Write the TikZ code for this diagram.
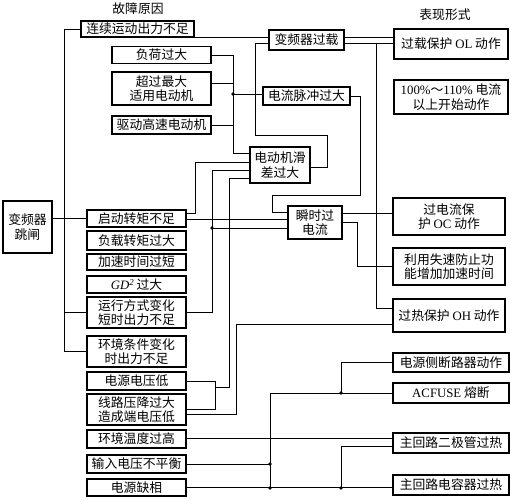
\documentclass[tikz,border=0pt]{standalone}
\usepackage{fontspec}
\setmainfont{Noto Sans CJK SC}
\newfontfamily\lat{Liberation Serif}
\begin{document}
\begin{tikzpicture}[x=1pt, y=-1pt, line width=0.8pt,
  box/.style={draw, line width=1.3pt, inner sep=0pt, align=center,
    font=\fontsize{12.8}{14.5}\selectfont},
  sz/.style 2 args={minimum width=#1pt, minimum height=#2pt},
  jd/.style={circle, fill, inner sep=0pt, minimum size=3.8pt}]
\useasboundingbox (0,0) rectangle (511,500);
% titles
\node[font=\fontsize{12.8}{14.5}\selectfont] (yy) at (138,9) {故障原因};
\node[font=\fontsize{12.8}{14.5}\selectfont] (bx) at (445,15) {表现形式};
% causes
\node[box, sz={113}{16}] (lx) at (137.5,29) {连续运动出力不足};
\node[box, sz={99}{17}] (fh) at (161.5,55) {负荷过大};
\node[box, sz={99}{33}] (cg) at (161.5,88.5) {超过最大\\适用电动机};
\node[box, sz={99}{18}] (qg) at (161.5,125) {驱动高速电动机};
\node[box, sz={49}{52}] (tz) at (27.5,227) {变频器\\跳闸};
\node[box, sz={99}{17}] (qd) at (136.5,218.5) {启动转矩不足};
\node[box, sz={99}{19}] (fz) at (136.5,240.5) {负载转矩过大};
\node[box, sz={99}{16}] (js) at (136.5,262) {加速时间过短};
\node[box, sz={99}{17}] (gd) at (136.5,284.5) {{\lat\itshape GD\textsuperscript{2}}\,过大};
\node[box, sz={99}{31}] (yf) at (136.5,312.5) {运行方式变化\\短时出力不足};
\node[box, sz={99}{31}] (hj) at (136.5,351.5) {环境条件变化\\时出力不足};
\node[box, sz={99}{18}] (dy) at (136.5,381) {电源电压低};
\node[box, sz={99}{31}] (xl) at (136.5,409.5) {线路压降过大\\造成端电压低};
\node[box, sz={99}{18}] (wd) at (136.5,439) {环境温度过高};
\node[box, sz={99}{18}] (sr) at (136.5,464) {输入电压不平衡};
\node[box, sz={99}{17}] (qx) at (136.5,487.5) {电源缺相};
% middle
\node[box, sz={75}{20}] (gz) at (306.5,40) {变频器过载};
\node[box, sz={87}{18}] (mc) at (306.5,96) {电流脉冲过大};
\node[box, sz={60}{36}] (hc) at (280,165) {电动机滑\\差过大};
\node[box, sz={54}{33}] (ss) at (315,222.5) {瞬时过\\电流};
% results
\node[box, sz={114}{30}] (ol) at (451,44) {过载保护 {\lat OL} 动作};
\node[box, sz={114}{34}] (bf) at (451,97) {{\lat 100\%}～{\lat 110\%} 电流\\以上开始动作};
\node[box, sz={112}{37}] (oc) at (449,216.5) {过电流保\\护 {\lat OC} 动作};
\node[box, sz={112}{37}] (sl) at (449,266.5) {利用失速防止功\\能增加加速时间};
\node[box, sz={112}{33}] (oh) at (449,315.5) {过热保护 {\lat OH} 动作};
\node[box, sz={116}{19}] (dl) at (451,362.5) {电源侧断路器动作};
\node[box, sz={116}{20}] (af) at (451,393) {{\lat ACFUSE} 熔断};
\node[box, sz={116}{20}] (ej) at (451,443) {主回路二极管过热};
\node[box, sz={116}{20}] (dr) at (451,485) {主回路电容器过热};
% junctions
\coordinate (lbus) at (64,0);
\coordinate (gbus) at (233,0);
\coordinate (olj) at (376,43);
\node[jd] (d1) at (233,94) {};
\node[jd] (d2) at (212,228) {};
\node[jd] (d3) at (270,464) {};
\node[jd] (d4) at (270,488) {};
\node[jd] (d5) at (341,393) {};
\node[jd] (d6) at (341,488) {};
% connectors
\draw (tz.east |- qd.west) -- (qd.west);
\draw (lx.west) -- (lx.west -| lbus) |- (hj.west);
\draw (yf.west) -- (yf.west -| lbus);
\draw (lx.south east) -- (gz.west |- lx.south east);
\draw (gz.east |- 0,37) -- (ol.west |- 0,37);
\draw (gz.east |- 0,43) -- (ol.west |- 0,43);
\draw (olj) |- (oh.west |- 0,308);
\draw (hc.east |- 0,167) -- (327,167) |- (255,135) |- (gz.west |- 0,43);
\draw (fh.east) -- (fh.east -| gbus) |- (hc.west |- 0,153);
\draw (cg.east |- 0,83) -- (gbus |- 0,83);
\draw (qg.east) -- (qg.east -| gbus);
\draw (d1.center) -- (mc.west |- d1.center);
\draw (qd.east |- 0,213) -- (195,213) |- (hc.west |- 0,162);
\draw (qd.east |- 0,219) -- (ss.west |- 0,219);
\draw (yf.east) -- (yf.east -| d2) |- (hc.west |- 0,170);
\draw (d2.center) -- (ss.west |- d2.center);
\draw (dy.east) -- (215,381) |- (xl.east |- 0,409);
\draw (215,387) -- (229,387) |- (hc.west |- 0,178);
\draw (xl.east |- 0,414) -- (236,414) |- (oh.west |- 0,324);
\draw (mc.east) -- (360,96) |- (272,195) |- (ss.west |- 0,212);
\draw (ss.east |- 0,213) -- (oc.west |- 0,213);
\draw (ss.east |- 0,222) -- (357,222) |- (sl.west);
\draw (wd.east |- 0,438) -- (ej.west |- 0,438);
\draw (sr.east) -- (d3.center);
\draw (qx.east) -- (dr.west |- qx.east);
\draw (d4.center) |- (af.west);
\draw (d5.center) |- (dl.west);
\draw (d6.center) |- (ej.west |- 0,446);
\end{tikzpicture}
\end{document}
